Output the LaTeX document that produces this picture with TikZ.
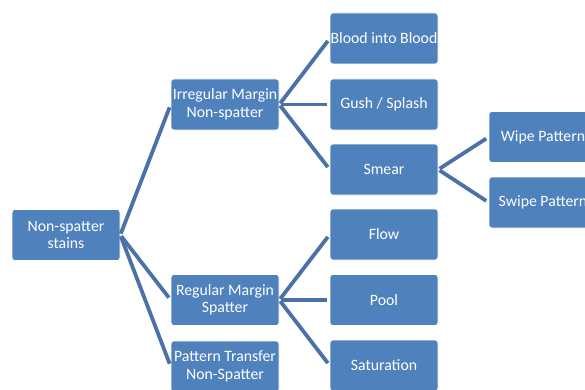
\documentclass[tikz,border=0pt]{standalone}
\usepackage{fontspec}
\setmainfont{Carlito}
\usepackage{tikz}
\usetikzlibrary{calc}
\definecolor{boxblue}{HTML}{4F81BD}
\definecolor{linkblue}{HTML}{4A72A8}
\tikzset{
  stainbox/.style={shape=rectangle,rounded corners=3pt,fill=boxblue,draw=white,line width=0.6pt,
    minimum width=108pt,minimum height=51pt,inner sep=0pt,align=center,text=white,font=\fontsize{15.8}{17.5}\selectfont},
  branch/.style={draw=linkblue,line width=3.8pt,shorten <=1.5pt,shorten >=3pt}
}
\newcommand{\stain}[4]{\node[stainbox] (#1) at ( #2 , #3 ) {#4};}
\newcommand{\branch}[2]{\draw[branch] (#1.east) -- (#2.west);}

\begin{document}
\begin{tikzpicture}[x=1pt,y=1pt]
        \useasboundingbox (0,0) rectangle (585,389);
        \clip (0,0) rectangle (585,389);
        % root
        \stain{root}{66}{154}{Non-spatter\\stains}
        % level 1
        \stain{irregular}{225}{284.5}{Irregular Margin\\Non-spatter}
        \stain{regular}{225}{89}{Regular Margin\\Spatter}
        \stain{transfer}{225}{22.5}{Pattern Transfer\\Non-Spatter}
        % level 2
        \stain{intoblood}{384}{350.5}{Blood into Blood}
        \stain{gush}{384}{284.5}{Gush / Splash}
        \stain{smear}{384}{219.5}{Smear}
        \stain{flow}{384}{154.5}{Flow}
        \stain{pool}{384}{89}{Pool}
        \stain{saturation}{384}{23.5}{Saturation}
        % level 3
        \stain{wipe}{543}{252}{Wipe Pattern}
        \stain{swipe}{543}{186.5}{Swipe Pattern}

        % links
        \branch{root}{irregular}
        \branch{root}{regular}
        \branch{root}{transfer}
        \branch{irregular}{intoblood}
        \branch{irregular}{gush}
        \branch{irregular}{smear}
        \branch{regular}{flow}
        \branch{regular}{pool}
        \branch{regular}{saturation}
        \branch{smear}{wipe}
        \branch{smear}{swipe}

    \end{tikzpicture}
\end{document}
